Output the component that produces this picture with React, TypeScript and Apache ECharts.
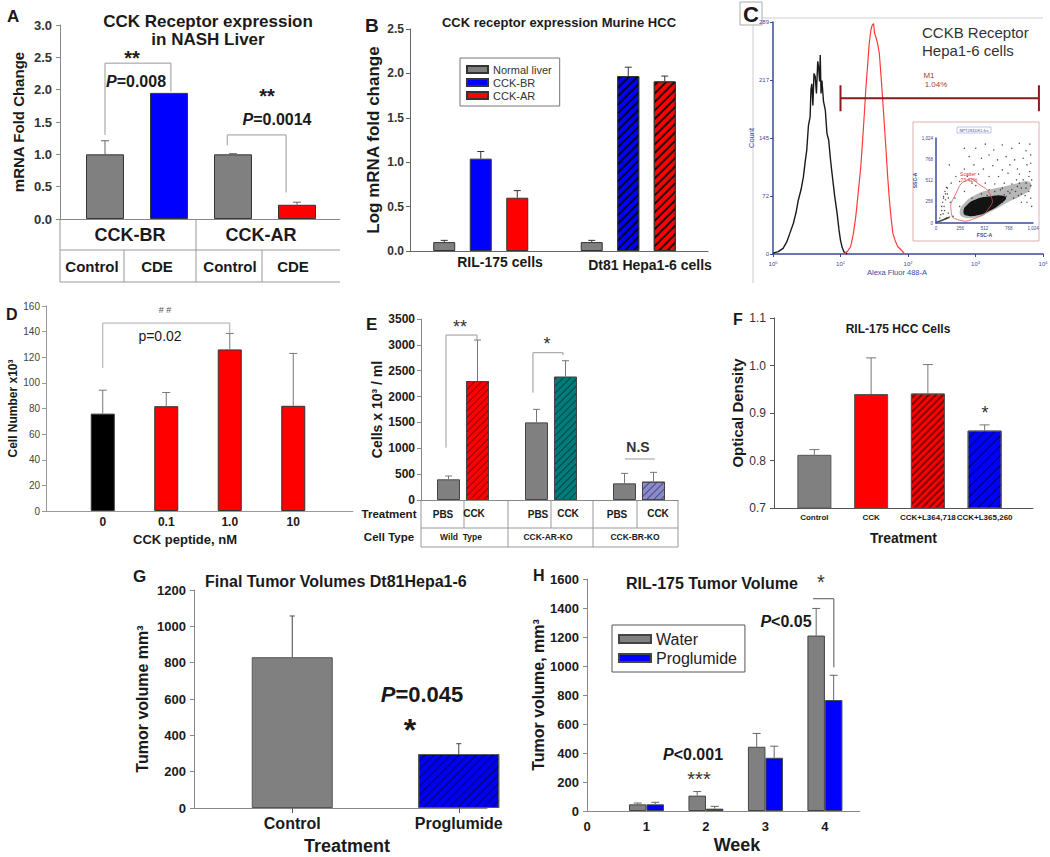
import React, { useEffect, useRef } from 'react';
import * as echarts from 'echarts';

const FONT = '"Liberation Sans", Arial, Helvetica, sans-serif';
const INK = '#1a1a1a';
const NAVY = '#3b4a9c';

// ===== Panel A: CCK receptor expression in NASH liver =====
const aGroups = ['CCK-BR', 'CCK-AR'];
const aCategories = ['Control', 'CDE', 'Control', 'CDE'];
const aValues = [1.0, 1.95, 1.0, 0.22];
const aErrors = [0.21, 0, 0.01, 0.04];
const aColors = ['#808080', '#0000ff', '#808080', '#ff0000'];
const aYRange = [0, 3, 0.5];
const aBrackets = [
  { l: [0, 0], r: [1, 0.03], yl: 1.3, yr: 1.97, top: 2.41 },
  { l: [2, -0.09], r: [3, -0.17], yl: 1.14, yr: 0.41, top: 1.3 },
];

// ===== Panel B: CCK receptor expression Murine HCC =====
const bCategories = ['RIL-175 cells', 'Dt81 Hepa1-6 cells'];
const bSeriesNames = ['Normal liver', 'CCK-BR', 'CCK-AR'];
const bNormal = [0.1, 0.1];
const bNormalErr = [0.02, 0.02];
const bCckBR = [1.04, 1.97];
const bCckBRErr = [0.08, 0.1];
const bCckAR = [0.6, 1.91];
const bCckARErr = [0.08, 0.06];
const bColors = ['#808080', '#0000ff', '#ff0000'];
const bYRange = [0, 2.5, 0.5];

// ===== Panel C: flow cytometry histogram =====
const cBlack = [
  [1, 1], [1.2, 3], [1.41, 7], [1.6, 15], [1.78, 26], [2.0, 38], [2.2, 52], [2.37, 67], [2.6, 80],
  [2.82, 96], [3.0, 115], [3.16, 129], [3.35, 160], [3.55, 171], [3.65, 205], [3.76, 212], [3.9, 185],
  [4.05, 225], [4.22, 221], [4.4, 200], [4.6, 240], [4.73, 233], [4.9, 215], [5.01, 248], [5.15, 200],
  [5.31, 216], [5.6, 190], [5.96, 179], [6.3, 150], [6.68, 142], [7.1, 118], [7.5, 100], [8.2, 72],
  [8.9, 51], [9.5, 30], [10, 17], [10.6, 8], [11.2, 3], [12.6, 0],
];
const cRed = [
  [11.2, 0], [12.6, 3], [14.1, 9], [15.5, 25], [16.8, 46], [18.4, 78], [20, 109], [21.2, 140], [22.4, 171],
  [23.7, 205], [25.1, 233], [26.6, 262], [28.2, 279], [29.5, 285], [30.9, 287], [32.0, 275], [33.5, 270],
  [35.5, 262], [37.6, 250], [40, 220], [42.2, 192], [44.7, 160], [47.3, 129], [50, 96], [53.1, 67],
  [56.2, 45], [59.6, 26], [65, 16], [70.8, 9], [79.4, 5], [89, 0],
];
const cYRange = [0, 289, 72.25];
const cM1 = [10, 8700, 194];
const cInsetPoints = [
  [420, 900], [520, 950], [610, 880], [700, 940], [800, 900], [880, 960], [950, 870], [350, 800], [480, 780],
  [560, 820], [650, 760], [740, 800], [830, 760], [920, 780], [1000, 820], [300, 650], [400, 700], [500, 650],
  [600, 690], [700, 640], [780, 700], [860, 650], [960, 700], [250, 500], [330, 560], [450, 590], [560, 560],
  [660, 560], [760, 600], [880, 590], [990, 620], [1010, 520], [950, 480], [900, 420], [850, 520], [720, 480],
  [620, 470], [520, 480], [420, 450], [300, 380], [200, 300], [150, 250], [250, 200], [120, 420], [100, 350],
  [80, 300], [60, 200], [90, 150], [130, 120], [50, 100], [40, 60], [110, 60], [180, 80], [980, 380],
  [1000, 300], [940, 330], [870, 330], [960, 250], [1010, 200], [900, 250], [800, 400], [760, 380], [680, 400],
  [380, 300], [350, 200], [600, 200], [700, 250], [820, 300], [560, 400], [480, 350], [660, 330], [740, 320],
  [880, 480], [160, 480], [210, 560], [380, 480], [990, 950], [300, 900], [1000, 720], [140, 700],
  [70, 250], [80, 320], [95, 380], [110, 430], [100, 280], [120, 350], [60, 150], [85, 200], [130, 300], [75, 110],
  [640, 300], [720, 340], [780, 360], [840, 380], [900, 350], [950, 420], [1000, 450], [860, 440], [800, 470],
  [920, 520], [980, 560], [700, 420], [620, 380], [540, 330], [470, 280], [410, 250], [360, 150], [330, 120],
];
const cInsetHalo = [
  [290, 70], [250, 130], [300, 240], [420, 340], [560, 400], [720, 440], [860, 480], [980, 500],
  [1000, 420], [900, 330], [760, 250], [600, 150], [430, 70],
];
const cInsetCore = [
  [320, 90], [290, 140], [330, 220], [430, 290], [560, 320], [680, 330], [740, 300],
  [680, 230], [570, 150], [450, 95],
];
const cInsetStreak = [[5, 5], [60, 20], [140, 60], [150, 80], [70, 45], [5, 15]];
const cInsetGate = [[230, 40], [160, 140], [200, 330], [330, 520], [450, 470], [580, 320], [560, 180], [420, 60]];

// ===== Panel D: CCK peptide dose =====
const dCategories = ['0', '0.1', '1.0', '10'];
const dValues = [76, 81.8, 126.1, 82.1];
const dErrors = [18.3, 10.7, 12.5, 40.9];
const dColors = ['#000000', '#ff0000', '#ff0000', '#ff0000'];
const dYRange = [0, 160, 20];
const dBrackets = [{ l: [0, 0], r: [2, 0], yl: 111.6, yr: 139, top: 146.7 }];

// ===== Panel E: knockout cells =====
const eCellTypes = ['Wild  Type', 'CCK-AR-KO', 'CCK-BR-KO'];
const eTreatments = ['PBS', 'CCK'];
const ePBS = [400, 1501, 322];
const ePBSErr = [64, 252, 193];
const eCCK = [2300, 2384, 354];
const eCCKErr = [793, 309, 181];
const eCCKColors = ['#ff0000', '#007b7b', '#8a8ad0'];
const eYRange = [0, 3500, 500];
const eBrackets = [
  { l: [0, -0.193], r: [0, 0.159], yl: 1012, yr: 3100, top: 3190 },
  { l: [1, -0.205], r: [1, 0.136], yl: 2075, yr: 2800, top: 2848 },
  { l: [2, -0.16], r: [2, 0.18], yl: 793, yr: 793, top: 793 },
];

// ===== Panel F: RIL-175 HCC cells =====
const fCategories = ['Control', 'CCK', 'CCK+L364,718', 'CCK+L365,260'];
const fValues = [0.812, 0.94, 0.941, 0.863];
const fErrors = [0.011, 0.076, 0.061, 0.012];
const fYRange = [0.7, 1.1, 0.1];

// ===== Panel G: final tumor volumes =====
const gCategories = ['Control', 'Proglumide'];
const gValues = [830, 297];
const gErrors = [227, 57];
const gYRange = [0, 1200, 200];

// ===== Panel H: RIL-175 tumor volume =====
const hSeriesNames = ['Water', 'Proglumide'];
const hWeeks = [1, 2, 3, 4];
const hWater = [46, 106, 443, 1210];
const hWaterErr = [9, 28, 92, 187];
const hProg = [46, 16, 367, 765];
const hProgErr = [14, 16, 80, 171];
const hXRange = [0, 4.59, 1];
const hYRange = [0, 1600, 200];
const hBrackets = [{ l: [3.8, 0], r: [4.15, 0], yl: 1464, yr: 991, top: 1464 }];

// ---------- helpers ----------
const hatch = (color: string, w: number, gap: number) => ({
  symbol: 'rect',
  symbolSize: 1,
  dashArrayX: [1, 0],
  dashArrayY: [w, gap],
  rotation: -Math.PI / 4,
  color,
});
const plain = (v: number) => String(v);

function txt(x: number, y: number, text: string, size: number, o: any = {}) {
  return {
    type: 'text',
    x,
    y,
    silent: true,
    rotation: o.rotation || 0,
    style: {
      text,
      fontSize: size,
      fontWeight: o.weight || 'bold',
      fontStyle: o.italic ? 'italic' : 'normal',
      fontFamily: FONT,
      fill: o.color || INK,
      textAlign: o.align || 'center',
      textVerticalAlign: 'middle',
      rich: o.rich,
    },
  };
}
function pText(x: number, y: number, text: string, size: number) {
  return txt(x, y, text, size, {
    rich: { i: { fontStyle: 'italic', fontWeight: 'bold', fontSize: size, fontFamily: FONT, fill: INK } },
  });
}
function ln(x1: number, y1: number, x2: number, y2: number, color = '#999', w = 1) {
  return { type: 'line', silent: true, shape: { x1, y1, x2, y2 }, style: { stroke: color, lineWidth: w } };
}

function buildOption() {
  const grids: any[] = [];
  const xAxes: any[] = [];
  const yAxes: any[] = [];
  const series: any[] = [];
  const G: any[] = [];

  const addGrid = (r: number[], x: any, y: any) => {
    const i = grids.length;
    grids.push({ left: r[0], top: r[1], width: r[2] - r[0], height: r[3] - r[1], outerBoundsMode: 'none', containLabel: false });
    xAxes.push({ ...x, gridIndex: i });
    yAxes.push({ ...y, gridIndex: i });
    return i;
  };
  const frameX = (color: string, extra: any = {}) => ({
    type: 'value', min: 0, max: 1, position: 'bottom',
    axisLine: { show: true, onZero: false, lineStyle: { color, width: 1 } },
    axisTick: { show: false }, axisLabel: { show: false }, splitLine: { show: false }, ...extra,
  });
  const valY = (range: number[], o: any) => ({
    type: 'value', min: range[0], max: range[1], interval: range[2], position: 'left',
    axisLine: { show: true, lineStyle: { color: o.line, width: 1 } },
    axisTick: { show: true, inside: false, length: 4, lineStyle: { color: o.line } },
    splitLine: { show: false },
    axisLabel: { fontFamily: FONT, color: '#333', formatter: plain, ...o.label },
    name: o.name, nameLocation: 'middle', nameRotate: 90, nameGap: o.nameGap,
    nameTextStyle: { fontFamily: FONT, fontSize: o.nameSize, fontWeight: o.nameWeight || 'bold', color: o.nameColor || INK },
  });
  const hiddenY = (range: number[]) => ({ type: 'value', min: range[0], max: range[1], show: false });
  const catX = (data: string[], label: any, tick: any = { show: false }) => ({
    type: 'category', data, position: 'bottom',
    axisLine: { show: false }, axisTick: tick, splitLine: { show: false },
    axisLabel: { fontFamily: FONT, color: INK, interval: 0, ...label },
  });
  const errorBars = (gi: number, values: number[], errors: number[], offset: number, cap: number, color: string, xs?: number[]) => ({
    type: 'custom', coordinateSystem: 'cartesian2d', xAxisIndex: gi, yAxisIndex: gi, z: 5, silent: true, clip: false,
    data: values.map((v, i) => [xs ? xs[i] : i, v, v + errors[i]]),
    encode: { x: 0, y: [1, 2] },
    renderItem: (params: any, api: any) => {
      const xv = api.value(0), lo = api.value(1), hi = api.value(2);
      if (!(hi > lo)) return null;
      const p1 = api.coord([xv, lo]);
      const p2 = api.coord([xv, hi]);
      const x = p1[0] + offset;
      return {
        type: 'group',
        children: [
          { type: 'line', shape: { x1: x, y1: p1[1], x2: x, y2: p2[1] }, style: { stroke: color, lineWidth: 1 } },
          { type: 'line', shape: { x1: x - cap / 2, y1: p2[1], x2: x + cap / 2, y2: p2[1] }, style: { stroke: color, lineWidth: 1 } },
        ],
      };
    },
  });
  const brackets = (gi: number, list: any[], color: string, isCat: boolean) => ({
    type: 'custom', coordinateSystem: 'cartesian2d', xAxisIndex: gi, yAxisIndex: gi, z: 4, silent: true, clip: false,
    data: list.map((b) => [b.l[0], b.yl, b.r[0], b.yr, b.top, b.l[1], b.r[1]]),
    encode: { x: [0, 2], y: [1, 3, 4] },
    renderItem: (params: any, api: any) => {
      const band = isCat ? api.size([1, 0])[0] : 0;
      const top = api.value(4);
      const L = api.coord([api.value(0), api.value(1)]);
      const R = api.coord([api.value(2), api.value(3)]);
      const T = api.coord([api.value(0), top]);
      const xl = L[0] + api.value(5) * band;
      const xr = R[0] + api.value(6) * band;
      return {
        type: 'polyline',
        shape: { points: [[xl, L[1]], [xl, T[1]], [xr, T[1]], [xr, R[1]]] },
        style: { stroke: color, lineWidth: 1, fill: 'none' },
      };
    },
  });
  const polySeries = (gi: number, pts: number[][], style: any, smooth = 0.4) => ({
    type: 'custom', coordinateSystem: 'cartesian2d', xAxisIndex: gi, yAxisIndex: gi, silent: true, z: 2,
    data: [pts[0]],
    renderItem: (params: any, api: any) => ({
      type: 'polygon',
      shape: { points: pts.map((p) => api.coord(p)), smooth },
      style,
    }),
  });

  // ================= A =================
  addGrid([60, 25, 340, 219], frameX('#888'), valY(aYRange, {
    line: '#888', label: { fontSize: 13, fontWeight: 'bold', margin: 8, formatter: (v: number) => v.toFixed(1) },
    name: 'mRNA Fold Change', nameSize: 15, nameGap: 34,
  }));
  const gAb = addGrid([73, 25, 329, 219], catX(aCategories, { show: false }), hiddenY(aYRange));
  series.push({
    type: 'bar', xAxisIndex: gAb, yAxisIndex: gAb, barWidth: 38,
    itemStyle: { borderColor: '#333', borderWidth: 1 },
    data: aValues.map((v, i) => ({ value: v, itemStyle: { color: aColors[i] } })),
  });
  series.push(errorBars(gAb, aValues, aErrors, 0, 8, '#666'));
  series.push(brackets(gAb, aBrackets, '#999', true));
  G.push(txt(7, 16, 'A', 17, { align: 'left' }));
  G.push(txt(208, 21, 'CCK Receptor expression', 17));
  G.push(txt(208, 39, 'in NASH Liver', 17));
  G.push(ln(60, 250, 340, 250), ln(60, 282, 340, 282), ln(60, 219, 60, 282), ln(196, 219, 196, 282), ln(124, 250, 124, 282), ln(262, 250, 262, 282));
  G.push(txt(130, 235, aGroups[0], 18), txt(261, 235, aGroups[1], 18));
  [92, 157, 230, 293].forEach((x, i) => G.push(txt(x, 266, aCategories[i], 15)));
  G.push(txt(132, 58, '**', 20), pText(136, 81, '{i|P}=0.008', 16));
  G.push(txt(267, 96, '**', 20), pText(277, 119, '{i|P}=0.0014', 16));

  // ================= B =================
  addGrid([410, 29, 708, 251], frameX('#666'), valY(bYRange, {
    line: '#666', label: { fontSize: 12, fontWeight: 'bold', margin: 6, formatter: (v: number) => v.toFixed(1) },
    name: 'Log mRNA fold change', nameSize: 17, nameGap: 28,
  }));
  const gBb = addGrid([407, 29, 702, 251], catX(bCategories, { show: false }), hiddenY(bYRange));
  const bHatch = hatch('rgba(0,0,0,0.85)', 1.3, 3.2);
  const bData = [bNormal, bCckBR, bCckAR];
  const bErr = [bNormalErr, bCckBRErr, bCckARErr];
  bData.forEach((vals, k) => {
    series.push({
      type: 'bar', name: bSeriesNames[k], xAxisIndex: gBb, yAxisIndex: gBb, barWidth: 22, barGap: '66%',
      itemStyle: { color: bColors[k], borderColor: '#333', borderWidth: 1 },
      data: vals.map((v, i) => ({ value: v, itemStyle: k > 0 && i === 1 ? { decal: bHatch } : {} })),
    });
    series.push(errorBars(gBb, vals, bErr[k], (k - 1) * 36.5, 7, '#333'));
  });
  G.push(txt(500, 262, bCategories[0], 14), txt(650, 265, bCategories[1], 14));
  G.push(txt(365, 25, 'B', 19, { align: 'left' }));
  G.push(txt(559, 22, 'CCK receptor expression Murine HCC', 13));

  // ================= C =================
  const gC = addGrid([773, 22, 1043, 254], {
    type: 'log', logBase: 10, min: 1, max: 10000, position: 'bottom',
    axisLine: { show: true, onZero: false, lineStyle: { color: NAVY, width: 1.5 } },
    axisTick: { show: true, length: 3, lineStyle: { color: NAVY } },
    minorTick: { show: false }, splitLine: { show: false },
    axisLabel: {
      fontSize: 6, color: NAVY, fontFamily: FONT, margin: 6,
      formatter: (v: number) => '10{s|' + Math.round(Math.log10(v)) + '}',
      rich: { s: { fontSize: 4, verticalAlign: 'top', color: NAVY, padding: [0, 0, 3, 0] } },
    },
    name: 'Alexa Fluor 488-A', nameLocation: 'middle', nameGap: 14,
    nameTextStyle: { fontSize: 7.5, color: NAVY, fontFamily: FONT, padding: [0, 22, 0, 0] },
  }, {
    type: 'value', min: cYRange[0], max: cYRange[1], interval: cYRange[2], position: 'left',
    axisLine: { show: true, lineStyle: { color: NAVY, width: 1.5 } },
    axisTick: { show: true, length: 3, lineStyle: { color: NAVY } }, splitLine: { show: false },
    axisLabel: { fontSize: 6, color: NAVY, fontFamily: FONT, margin: 4, formatter: (v: number) => String(Math.round(v)) },
    name: 'Count', nameLocation: 'middle', nameRotate: 90, nameGap: 14,
    nameTextStyle: { fontSize: 7.5, color: NAVY, fontFamily: FONT },
  });
  series.push({ type: 'line', xAxisIndex: gC, yAxisIndex: gC, data: cBlack, showSymbol: false, symbol: 'none', lineStyle: { color: '#1a1a1a', width: 1.4 }, z: 3 });
  series.push({ type: 'line', xAxisIndex: gC, yAxisIndex: gC, data: cRed, showSymbol: false, symbol: 'none', lineStyle: { color: '#ff3a3a', width: 1.2 }, z: 3 });
  series.push({
    type: 'custom', coordinateSystem: 'cartesian2d', xAxisIndex: gC, yAxisIndex: gC, silent: true, z: 4,
    data: [cM1], encode: { x: [0, 1], y: 2 },
    renderItem: (params: any, api: any) => {
      const a = api.coord([api.value(0), api.value(2)]);
      const b = api.coord([api.value(1), api.value(2)]);
      const st = { stroke: '#8b1a1a', lineWidth: 2 };
      return {
        type: 'group', children: [
          { type: 'line', shape: { x1: a[0], y1: a[1], x2: b[0], y2: b[1] }, style: st },
          { type: 'line', shape: { x1: a[0], y1: a[1] - 13, x2: a[0], y2: a[1] + 13 }, style: st },
          { type: 'line', shape: { x1: b[0], y1: b[1] - 13, x2: b[0], y2: b[1] + 13 }, style: st },
        ],
      };
    },
  });
  const gCi = addGrid([936, 138, 1033, 223], {
    type: 'value', min: 0, max: 1024, interval: 256, position: 'bottom',
    axisLine: { show: true, onZero: false, lineStyle: { color: NAVY, width: 1.5 } }, axisTick: { show: false }, splitLine: { show: false },
    axisLabel: { fontSize: 4.5, color: NAVY, margin: 3, fontFamily: FONT },
    name: 'FSC-A', nameLocation: 'middle', nameGap: 9, nameTextStyle: { fontSize: 5, color: NAVY, fontWeight: 'bold', fontFamily: FONT },
  }, {
    type: 'value', min: 0, max: 1024, interval: 256, position: 'left',
    axisLine: { show: true, onZero: false, lineStyle: { color: NAVY, width: 1.5 } }, axisTick: { show: false }, splitLine: { show: false },
    axisLabel: { fontSize: 4.5, color: NAVY, margin: 3, fontFamily: FONT },
    name: 'SSC-A', nameLocation: 'middle', nameRotate: 90, nameGap: 13, nameTextStyle: { fontSize: 5, color: NAVY, fontWeight: 'bold', fontFamily: FONT },
  });
  series.push(polySeries(gCi, cInsetHalo, { fill: 'rgba(50,50,50,0.35)' }, 0.5));
  series.push(polySeries(gCi, cInsetCore, { fill: 'rgba(10,10,10,0.95)' }, 0.5));
  series.push(polySeries(gCi, cInsetStreak, { fill: 'rgba(20,20,20,0.8)' }, 0.3));
  series.push({ type: 'scatter', xAxisIndex: gCi, yAxisIndex: gCi, data: cInsetPoints, symbolSize: 1.4, itemStyle: { color: '#222' }, silent: true, z: 3 });
  series.push(polySeries(gCi, cInsetGate, { fill: 'none', stroke: '#e05050', lineWidth: 0.8 }, 0.6));
  G.push({ type: 'rect', silent: true, shape: { x: 740, y: 2, width: 22, height: 23 }, style: { fill: '#fff', stroke: '#aaa', lineWidth: 1 } });
  G.push(txt(751, 14, 'C', 22));
  G.push(ln(753, 25, 753, 283, '#ccc'), ln(762, 18, 1043, 18, '#ccc'));
  G.push(txt(922, 32, 'CCKB Receptor', 15, { weight: 'normal', color: '#333', align: 'left' }));
  G.push(txt(922, 50, 'Hepa1-6 cells', 15, { weight: 'normal', color: '#333', align: 'left' }));
  G.push(txt(929, 75, 'M1', 8, { weight: 'normal', color: '#a04040' }));
  G.push(txt(936, 84, '1.04%', 8, { weight: 'normal', color: '#a04040' }));
  G.push({ type: 'rect', silent: true, shape: { x: 913, y: 122, width: 126, height: 119 }, style: { fill: 'none', stroke: '#dcb0b0', lineWidth: 1 } });
  G.push({ type: 'rect', silent: true, shape: { x: 957, y: 127, width: 34, height: 6 }, style: { fill: 'none', stroke: '#9a9ad0', lineWidth: 0.6 } });
  G.push(txt(974, 130, 'NPT2S1DK1.fcs', 4, { weight: 'normal', color: NAVY }));
  G.push(txt(968, 174, 'Scatter', 5, { weight: 'normal', color: '#e03030' }));
  G.push(txt(969, 180, '73.42%', 5, { weight: 'normal', color: '#e03030' }));

  // ================= D =================
  addGrid([46, 306, 353, 511], frameX('#999', {
    name: 'CCK peptide, nM', nameLocation: 'middle', nameGap: 22,
    nameTextStyle: { fontFamily: FONT, fontSize: 13, fontWeight: 'bold', color: INK, padding: [0, 29, 0, 0] },
  }), valY(dYRange, {
    line: '#999', label: { fontSize: 10, fontWeight: 'normal', color: '#444', margin: 6 },
    name: 'Cell Number x10³', nameSize: 12, nameGap: 24,
  }));
  const gDb = addGrid([71, 306, 325, 511], catX(dCategories, { fontSize: 12, fontWeight: 'bold', margin: 5 }), hiddenY(dYRange));
  series.push({
    type: 'bar', xAxisIndex: gDb, yAxisIndex: gDb, barWidth: 24,
    itemStyle: { borderColor: '#333', borderWidth: 1 },
    data: dValues.map((v, i) => ({ value: v, itemStyle: { color: dColors[i] } })),
  });
  series.push(errorBars(gDb, dValues, dErrors, 0, 8, '#777'));
  series.push(brackets(gDb, dBrackets, '#aaa', true));
  G.push(txt(6, 314, 'D', 16, { align: 'left' }));
  G.push(txt(165, 310, '# #', 9, { weight: 'normal', color: '#555' }));
  G.push(txt(160, 336, 'p=0.02', 14, { weight: 'normal' }));

  // ================= E =================
  addGrid([421, 319, 678, 500], frameX('#888'), valY(eYRange, {
    line: '#888', label: { fontSize: 12, fontWeight: 'bold', margin: 6, color: INK },
    name: 'Cells x 10³ / ml', nameSize: 14, nameGap: 34,
  }));
  const gEb = addGrid([419, 319, 683, 500], catX(eCellTypes, { show: false }), hiddenY(eYRange));
  series.push({
    type: 'bar', name: eTreatments[0], xAxisIndex: gEb, yAxisIndex: gEb, barWidth: 23, barGap: '26%',
    itemStyle: { color: '#808080', borderColor: '#444', borderWidth: 1 }, data: ePBS,
  });
  series.push({
    type: 'bar', name: eTreatments[1], xAxisIndex: gEb, yAxisIndex: gEb, barWidth: 23, barGap: '26%',
    itemStyle: { borderColor: '#444', borderWidth: 1 },
    data: eCCK.map((v, i) => ({ value: v, itemStyle: { color: eCCKColors[i], decal: hatch('rgba(0,0,0,0.45)', 1, 3.5) } })),
  });
  series.push(errorBars(gEb, ePBS, ePBSErr, -14.5, 7, '#777'));
  series.push(errorBars(gEb, eCCK, eCCKErr, 14.5, 7, '#777'));
  series.push(brackets(gEb, eBrackets, '#999', true));
  G.push(txt(366, 324, 'E', 17, { align: 'left' }));
  G.push(txt(460, 327, '**', 18, { weight: 'normal', color: '#333' }));
  G.push(txt(547, 344, '*', 18, { weight: 'normal', color: '#333' }));
  G.push(txt(638, 447, 'N.S', 14, { color: '#333' }));
  G.push(ln(421, 528, 678, 528), ln(421, 547, 678, 547));
  [[421, 547], [464, 528], [508, 547], [551, 528], [593, 547], [637, 528], [678, 547]].forEach(([x, y2]) => G.push(ln(x, 500, x, y2)));
  G.push(txt(389, 514, 'Treatment', 11.5), txt(389, 537, 'Cell Type', 11.5));
  [443, 474, 538, 568, 617, 658].forEach((x, i) => G.push(txt(x, i % 2 ? 513 : 514, eTreatments[i % 2], 10)));
  [461, 548, 635].forEach((x, i) => G.push(txt(x, 537, eCellTypes[i], 8.5)));

  // ================= F =================
  addGrid([774, 318, 1033, 508], frameX('#555', {
    name: 'Treatment', nameLocation: 'middle', nameGap: 23,
    nameTextStyle: { fontFamily: FONT, fontSize: 14, fontWeight: 'bold', color: INK },
  }), valY(fYRange, {
    line: '#555', label: { fontSize: 12, fontWeight: 'normal', margin: 8, color: '#333', formatter: (v: number) => v.toFixed(1) },
    name: 'Optical Density', nameSize: 15, nameGap: 25,
  }));
  const gFb = addGrid([786, 318, 1013, 508], catX(fCategories, { fontSize: 8, fontWeight: 'bold', margin: 5 }), hiddenY(fYRange));
  const fStyles = [
    { color: '#808080' },
    { color: '#ff0000' },
    { color: '#ff0000', decal: hatch('rgba(110,0,0,0.85)', 1.1, 2.2) },
    { color: '#0000ff', decal: hatch('rgba(0,0,0,0.75)', 1, 6) },
  ];
  series.push({
    type: 'bar', xAxisIndex: gFb, yAxisIndex: gFb, barWidth: 34, clip: true,
    itemStyle: { borderColor: '#555', borderWidth: 1 },
    data: fValues.map((v, i) => ({ value: v, itemStyle: fStyles[i] })),
  });
  series.push(errorBars(gFb, fValues, fErrors, 0, 10, '#777'));
  G.push(txt(733, 319, 'F', 16, { align: 'left' }));
  G.push(txt(898, 329, 'RIL-175 HCC Cells', 12));
  G.push(txt(985, 413, '*', 18, { weight: 'normal', color: '#333' }));

  // ================= G =================
  addGrid([194, 590, 487, 808], frameX('#888', {
    name: 'Treatment', nameLocation: 'middle', nameGap: 29,
    nameTextStyle: { fontFamily: FONT, fontSize: 18, fontWeight: 'bold', color: INK, padding: [0, 0, 0, 13] },
  }), valY(gYRange, {
    line: '#888', label: { fontSize: 13, fontWeight: 'bold', margin: 8, color: INK },
    name: 'Tumor volume mm³', nameSize: 16, nameGap: 44,
  }));
  const gGb = addGrid([209, 590, 542, 808], catX(gCategories, { fontSize: 16, fontWeight: 'bold', margin: 7 },
    { show: true, alignWithLabel: true, inside: false, length: 5, lineStyle: { color: '#555' } }), hiddenY(gYRange));
  series.push({
    type: 'bar', xAxisIndex: gGb, yAxisIndex: gGb, barWidth: 81,
    itemStyle: { borderColor: '#555', borderWidth: 1 },
    data: gValues.map((v, i) => ({ value: v, itemStyle: i === 0 ? { color: '#808080' } : { color: '#0000ee', decal: hatch('rgba(0,0,0,0.55)', 1, 5) } })),
  });
  series.push(errorBars(gGb, gValues, gErrors, 0, 5, '#444'));
  G.push(txt(133, 576, 'G', 17, { align: 'left' }));
  G.push(txt(205, 581, 'Final Tumor Volumes Dt81Hepa1-6', 16, { align: 'left' }));
  G.push(pText(422, 694, '{i|P}=0.045', 22));
  G.push(txt(410, 730, '*', 32));

  // ================= H =================
  const gH = addGrid([587, 579, 860, 811], {
    type: 'value', min: hXRange[0], max: hXRange[1], interval: hXRange[2], position: 'bottom',
    axisLine: { show: true, onZero: false, lineStyle: { color: '#888' } }, axisTick: { show: false }, splitLine: { show: false },
    axisLabel: { fontSize: 13, fontWeight: 'bold', color: INK, fontFamily: FONT, margin: 9, showMaxLabel: false,
      formatter: (v: number) => (Number.isInteger(v) ? String(v) : '') },
    name: 'Week', nameLocation: 'middle', nameGap: 25,
    nameTextStyle: { fontFamily: FONT, fontSize: 18, fontWeight: 'bold', color: INK, padding: [0, 0, 0, 27] },
  }, valY(hYRange, {
    line: '#888', label: { fontSize: 13, fontWeight: 'bold', margin: 8, color: INK },
    name: 'Tumor volume, mm³', nameSize: 16, nameGap: 39,
  }));
  series.push({
    type: 'bar', name: hSeriesNames[0], xAxisIndex: gH, yAxisIndex: gH, barWidth: 17.5, barGap: '0%',
    itemStyle: { color: '#808080', borderColor: '#444', borderWidth: 1 },
    data: hWeeks.map((w, i) => [w, hWater[i]]),
  });
  series.push({
    type: 'bar', name: hSeriesNames[1], xAxisIndex: gH, yAxisIndex: gH, barWidth: 17.5, barGap: '0%',
    itemStyle: { color: '#0000ff', borderColor: '#444', borderWidth: 1 },
    data: hWeeks.map((w, i) => [w, hProg[i]]),
  });
  series.push(errorBars(gH, hWater, hWaterErr, -8.75, 8, '#666', hWeeks));
  series.push(errorBars(gH, hProg, hProgErr, 8.75, 8, '#666', hWeeks));
  series.push(brackets(gH, hBrackets, '#555', false));
  G.push(txt(533, 575, 'H', 16, { align: 'left' }));
  G.push(txt(712, 583, 'RIL-175 Tumor Volume', 16));
  G.push(txt(821, 582, '*', 20, { weight: 'normal', color: '#333' }));
  G.push(pText(786, 621, '{i|P}<0.05', 16));
  G.push(pText(693, 754, '{i|P}<0.001', 16));
  G.push(txt(699, 779, '***', 20, { weight: 'normal', color: '#333' }));

  const legends = [
    {
      left: 460, top: 58, orient: 'vertical', data: bSeriesNames, icon: 'rect', selectedMode: false,
      itemWidth: 21, itemHeight: 7, itemGap: 2, padding: [6, 8, 5, 6], borderColor: '#777', borderWidth: 1,
      textStyle: { fontSize: 11, color: '#333', fontFamily: FONT },
    },
    {
      left: 612, top: 625, orient: 'vertical', data: hSeriesNames, icon: 'rect', selectedMode: false,
      itemWidth: 32, itemHeight: 8, itemGap: 3, padding: [6, 8, 6, 6], borderColor: '#555', borderWidth: 1,
      textStyle: { fontSize: 16, color: '#222', fontFamily: FONT },
    },
  ];

  return {
    animation: false,
    backgroundColor: '#ffffff',
    textStyle: { fontFamily: FONT },
    grid: grids,
    xAxis: xAxes,
    yAxis: yAxes,
    legend: legends,
    series,
    graphic: { elements: G },
  };
}

export default function App() {
  const ref = useRef<HTMLDivElement>(null);
  useEffect(() => {
    if (!ref.current) return;
    const chart = echarts.init(ref.current, null, { renderer: 'svg' });
    chart.setOption(buildOption() as any);
    return () => chart.dispose();
  }, []);
  return (
    <div
      ref={ref}
      style={{ position: 'fixed', left: 0, top: 0, width: 1050, height: 857, background: '#fff' }}
    />
  );
}
